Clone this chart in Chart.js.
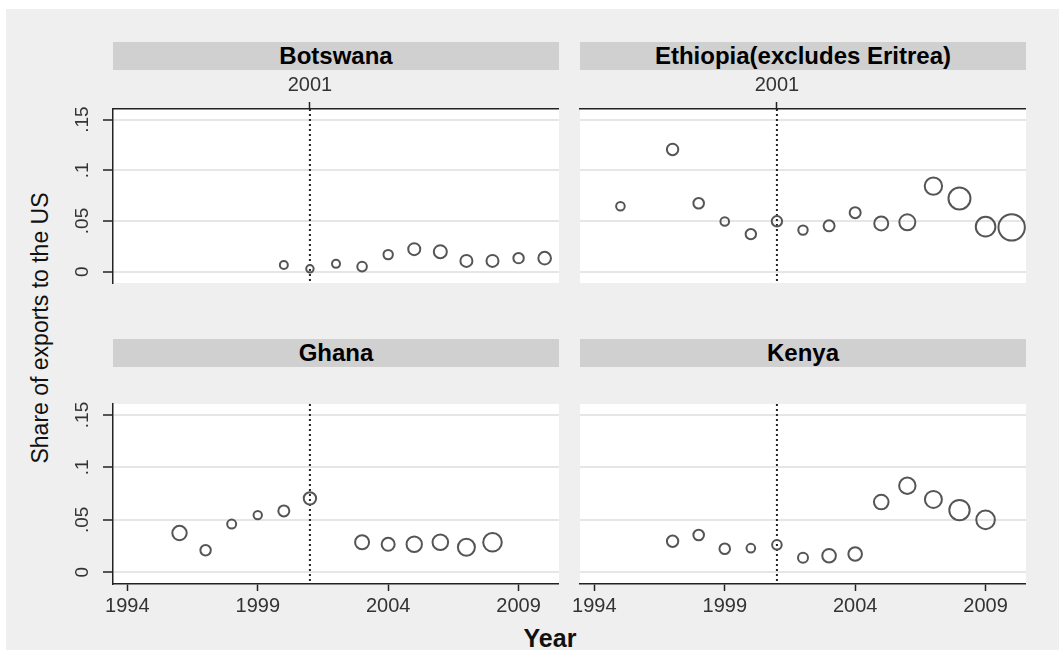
<!DOCTYPE html>
<html>
<head>
<meta charset="utf-8">
<script src="https://cdn.jsdelivr.net/npm/chart.js@4.4.0/dist/chart.umd.min.js"></script>
<style>
  body { margin: 0; width: 1059px; height: 650px; background: #fff; position: relative; overflow: hidden;
         font-family: "Liberation Sans", Arial, sans-serif; }
  #bg { position: absolute; left: 6px; top: 9px; width: 1053px; height: 641px; background: #efefef; }
  canvas { position: absolute; }
  .strip { position: absolute; width: 446px; height: 28px; background: #d0d0d0; color: #000;
           text-align: center; line-height: 28px; font-size: 24px; font-weight: bold; }
  #ytitle { position: absolute; left: 40px; top: 328px; transform: translate(-50%, -50%) rotate(-90deg);
            white-space: nowrap; font-size: 23px; color: #111; }
  #xtitle { position: absolute; left: 550px; top: 626px; transform: translateX(-50%);
            font-size: 25px; line-height: 25px; font-weight: bold; color: #111; }
</style>
</head>
<body>
<div id="bg"></div>
<canvas id="c1" width="499" height="251" style="left:60px;top:72px"></canvas>
<canvas id="c2" width="466" height="251" style="left:560px;top:72px"></canvas>
<canvas id="c3" width="499" height="257" style="left:60px;top:367px"></canvas>
<canvas id="c4" width="466" height="257" style="left:560px;top:367px"></canvas>
<div class="strip" id="s1" style="left:113px;top:42px"></div>
<div class="strip" id="s2" style="left:580px;top:42px"></div>
<div class="strip" id="s3" style="left:113px;top:339px"></div>
<div class="strip" id="s4" style="left:580px;top:339px"></div>
<div id="ytitle">Share of exports to the US</div>
<div id="xtitle">Year</div>
<script>
Chart.defaults.font.family = "'Liberation Sans', Arial, sans-serif";

// panels and axes
var countries = ['Botswana', 'Ethiopia(excludes Eritrea)', 'Ghana', 'Kenya'];
var xTicks = [1994, 1999, 2004, 2009];
var yTicks = [0, 0.05, 0.1, 0.15];
var yTickLabels = ['0', '.05', '.1', '.15'];
var lineYear = 2001;

// share of exports to the US, with marker weights
var botswanaYears = [2000, 2001, 2002, 2003, 2004, 2005, 2006, 2007, 2008, 2009, 2010];
var botswanaShare = [0.0066, 0.0028, 0.0077, 0.005, 0.0168, 0.0222, 0.0197, 0.0106, 0.0106, 0.0133, 0.0133];
var botswanaWeight = [4, 3.7, 4, 4.8, 4.7, 6, 6.5, 6, 6, 5.2, 6.3];

var ethiopiaYears = [1995, 1997, 1998, 1999, 2000, 2001, 2002, 2003, 2004, 2005, 2006, 2007, 2008, 2009, 2010];
var ethiopiaShare = [0.0645, 0.1206, 0.0675, 0.0495, 0.037, 0.0497, 0.041, 0.0452, 0.0582, 0.0476, 0.0487, 0.0844, 0.0722, 0.0444, 0.0437];
var ethiopiaWeight = [4.3, 5.7, 5.3, 4.3, 5.2, 5.2, 4.7, 5.5, 5.5, 7, 8, 8.7, 11, 9.8, 13.2];

var ghanaYears = [1996, 1997, 1998, 1999, 2000, 2001, 2003, 2004, 2005, 2006, 2007, 2008];
var ghanaShare = [0.0374, 0.021, 0.046, 0.0545, 0.0585, 0.0705, 0.0286, 0.0267, 0.0267, 0.0286, 0.0238, 0.0286];
var ghanaWeight = [7.2, 5.2, 4.5, 4.2, 5.5, 6.2, 7, 6.5, 7.7, 7.8, 8.5, 9.3];

var kenyaYears = [1997, 1998, 1999, 2000, 2001, 2002, 2003, 2004, 2005, 2006, 2007, 2008, 2009];
var kenyaShare = [0.0296, 0.0355, 0.0224, 0.023, 0.0262, 0.0139, 0.0158, 0.0174, 0.067, 0.0825, 0.0695, 0.0593, 0.05];
var kenyaWeight = [5.7, 5.3, 5.3, 4.3, 4.8, 5, 6.8, 6.8, 7.3, 8.2, 8.5, 10.2, 9.3];

var markerScale = 1;
var xMin = 1993.45, xMax = 2010.55;
var yMin = -0.0112, yMax = 0.1605;

for (var i = 0; i < 4; i++) document.getElementById('s' + (i + 1)).textContent = countries[i];

var plotBg = {
  id: 'plotBg',
  beforeDraw: function (chart) {
    var a = chart.chartArea;
    chart.ctx.save();
    chart.ctx.fillStyle = '#fff';
    chart.ctx.fillRect(a.left, a.top, a.right - a.left, a.bottom - a.top);
    chart.ctx.restore();
  }
};

var refLine = {
  id: 'refLine',
  beforeDatasetsDraw: function (chart) {
    var a = chart.chartArea, c = chart.ctx;
    var x = chart.scales.x.getPixelForValue(lineYear);
    c.save();
    c.strokeStyle = '#222';
    c.lineWidth = 2;
    c.setLineDash([2, 3]);
    c.beginPath();
    c.moveTo(x, a.top);
    c.lineTo(x, a.bottom);
    c.stroke();
    c.restore();
  }
};

function panel(id, years, share, weight, left, top, leftW) {
  var pts = years.map(function (y, i) { return { x: y, y: share[i] }; });
  return new Chart(document.getElementById(id), {
    type: 'scatter',
    data: {
      datasets: [{
        data: pts,
        pointRadius: function (c) { return weight[c.dataIndex] * markerScale; },
        pointBorderColor: '#555',
        pointBackgroundColor: 'rgba(0,0,0,0)',
        pointBorderWidth: 2
      }]
    },
    options: {
      responsive: false,
      animation: false,
      events: [],
      layout: { padding: 0, autoPadding: false },
      plugins: { legend: { display: false }, tooltip: { enabled: false } },
      scales: {
        x: {
          type: 'linear', position: 'bottom', min: xMin, max: xMax,
          display: !top,
          afterBuildTicks: function (s) { s.ticks = xTicks.map(function (v) { return { value: v }; }); },
          afterFit: function (s) { s.height = 40; },
          grid: { drawOnChartArea: false, tickLength: 7, tickColor: '#222', tickWidth: 1.5 },
          border: { color: '#222', width: 1.5 },
          ticks: { font: { size: 20 }, color: '#333', padding: 3, maxRotation: 0, autoSkip: false,
                   callback: function (v) { return String(v); } }
        },
        x2: {
          type: 'linear', position: 'top', min: xMin, max: xMax,
          display: top,
          afterBuildTicks: function (s) { s.ticks = [{ value: lineYear }]; },
          afterFit: function (s) { s.height = 37; },
          grid: { drawOnChartArea: false, tickLength: 7, tickColor: '#222', tickWidth: 1.5 },
          border: { color: '#222', width: 1.5 },
          ticks: { font: { size: 20 }, color: '#333', padding: 5, maxRotation: 0, autoSkip: false,
                   callback: function (v) { return String(v); } }
        },
        y: {
          type: 'linear', position: 'left', min: yMin, max: yMax,
          afterBuildTicks: function (s) { s.ticks = yTicks.map(function (v) { return { value: v }; }); },
          afterFit: function (s) { s.width = leftW; },
          grid: { color: '#e6e6e6', lineWidth: 2, drawTicks: left, tickLength: 10, tickColor: '#222', tickWidth: 1.5 },
          border: { display: left, color: '#222', width: 1.5 },
          ticks: { display: left, minRotation: 90, maxRotation: 90, crossAlign: 'center', padding: 7,
                   font: { size: 19 }, color: '#333',
                   callback: function (v, i) { return yTickLabels[i]; } }
        }
      }
    },
    plugins: [plotBg, refLine]
  });
}

panel('c1', botswanaYears, botswanaShare, botswanaWeight, true, true, 53);
panel('c2', ethiopiaYears, ethiopiaShare, ethiopiaWeight, false, true, 20);
panel('c3', ghanaYears, ghanaShare, ghanaWeight, true, false, 53);
panel('c4', kenyaYears, kenyaShare, kenyaWeight, false, false, 20);
</script>
</body>
</html>
